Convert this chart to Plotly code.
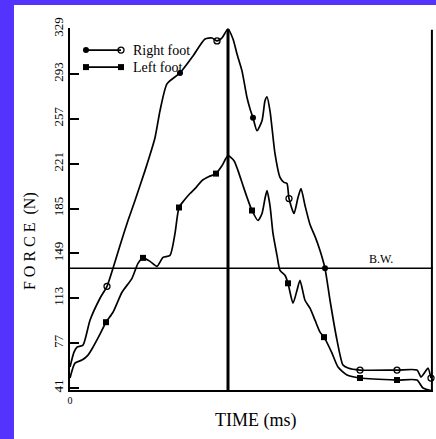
import plotly.graph_objects as go

# ---- data ----
right_t = [0, 4, 7, 13, 20, 30, 37, 43, 50, 58, 65, 75, 85, 90, 97, 110, 123, 135, 142, 147, 152, 158,
           163, 167, 172, 177, 180, 183, 187, 192, 195, 197, 200, 205, 210, 214, 217, 219, 224, 228, 231,
           235, 240, 245, 250, 255, 260, 267, 273, 278, 290, 327, 347, 351, 355, 358, 361]
right_f = [57.8, 69.8, 73.8, 75.4, 95.4, 113, 122.6, 137, 155.4, 175.4, 191.4, 215.4, 241.8, 263.4, 285,
           293.8, 307.4, 321, 321.8, 319.4, 321.8, 329, 321, 309, 295.4, 274, 265, 257.8, 247.4, 255.4,
           271.4, 274.6, 263.4, 229, 210, 206, 205, 193, 181, 193.8, 201, 187.4, 172.2, 162.6, 151.4, 137,
           111.4, 79.4, 59.4, 57, 55.4, 55.4, 55.4, 49.8, 53.8, 57, 49]
right_mark_t = [37, 110, 147, 183, 219, 255, 290, 327, 361]
right_mark_kind = ["open", "filled", "open", "filled", "open", "filled", "open", "open", "open"]

left_t = [0, 5, 12, 18, 23, 30, 36, 43, 52, 62, 68, 73, 80, 87, 93, 100, 105, 109, 114, 120, 126, 132,
          139, 146, 152, 158, 164, 168, 173, 177, 182, 188, 192, 195, 197, 200, 203, 207, 210, 215, 218,
          223, 227, 230, 235, 240, 245, 250, 254, 262, 268, 277, 290, 327, 347, 353, 363]
left_f = [49, 61, 63.4, 67.4, 73.8, 84.2, 93.8, 101.8, 117.8, 129, 141, 145.4, 142.6, 138.6, 145.8, 147.4,
          165, 185.8, 191.4, 197, 201.8, 207.4, 210.6, 213, 219.4, 227.4, 223.4, 215.4, 203.4, 194, 183.4,
          175.4, 181, 193, 199.4, 187.4, 165, 147.4, 135.4, 131.4, 125, 109, 119.4, 127.4, 111.4, 105, 95.4,
          85.8, 81.8, 69, 57.8, 51.4, 49, 47.4, 47.4, 41, 38.6]
left_mark_t = [36, 73, 109, 146, 182, 218, 254, 290, 327, 363]

bw_value = 137
y_ticks = [41, 77, 113, 149, 185, 221, 257, 293, 329]
series_names = ["Right foot", "Left foot"]

SERIF = "Liberation Serif"
LW = 1.7
fig = go.Figure()

for tt, ff in ((right_t, right_f), (left_t, left_f)):
    fig.add_trace(go.Scatter(x=tt, y=ff, mode="lines", line=dict(color="black", width=LW, shape="spline", smoothing=0.6),
                             showlegend=False, hoverinfo="skip", cliponaxis=False))

rmap = dict(zip(right_t, right_f))
lmap = dict(zip(left_t, left_f))
r_open = [t for t, k in zip(right_mark_t, right_mark_kind) if k == "open"]
r_fill = [t for t, k in zip(right_mark_t, right_mark_kind) if k == "filled"]
fig.add_trace(go.Scatter(x=r_open, y=[rmap[t] for t in r_open], mode="markers", cliponaxis=False, showlegend=False,
                         marker=dict(symbol="circle-open", size=6, color="black", line=dict(width=1.3))))
fig.add_trace(go.Scatter(x=r_fill, y=[rmap[t] for t in r_fill], mode="markers", cliponaxis=False, showlegend=False,
                         marker=dict(symbol="circle", size=6, color="black", line=dict(width=0))))
fig.add_trace(go.Scatter(x=left_mark_t[:-1], y=[lmap[t] for t in left_mark_t[:-1]], mode="markers", cliponaxis=False,
                         showlegend=False, marker=dict(symbol="square", size=6, color="black", line=dict(width=0))))
fig.add_trace(go.Scatter(x=left_mark_t[-1:], y=[lmap[t] for t in left_mark_t[-1:]], mode="markers", cliponaxis=False,
                         showlegend=False, marker=dict(symbol="circle", size=7, color="black", line=dict(width=0))))

# legend drawn on an overlay axis (0..1)
lx = [0.044, 0.1405]
ly = [0.939, 0.892]
fig.add_trace(go.Scatter(x=lx, y=[ly[0]] * 2, xaxis="x2", yaxis="y2", mode="lines", showlegend=False,
                         line=dict(color="black", width=LW)))
fig.add_trace(go.Scatter(x=lx[:1], y=[ly[0]], xaxis="x2", yaxis="y2", mode="markers", showlegend=False,
                         marker=dict(symbol="circle", size=6, color="black", line=dict(width=0))))
fig.add_trace(go.Scatter(x=lx[1:], y=[ly[0]], xaxis="x2", yaxis="y2", mode="markers", showlegend=False,
                         marker=dict(symbol="circle-open", size=6, color="black", line=dict(width=1.3))))
fig.add_trace(go.Scatter(x=lx, y=[ly[1]] * 2, xaxis="x2", yaxis="y2", mode="lines+markers", showlegend=False,
                         line=dict(color="black", width=LW), marker=dict(symbol="square", size=6, color="black", line=dict(width=0))))

# reference lines
peak_i = max(range(len(right_f)), key=lambda i: right_f[i])
peak_t, peak_f = right_t[peak_i], right_f[peak_i]
shapes = [
    dict(type="line", xref="x", yref="y", x0=peak_t, x1=peak_t, y0=39.4, y1=peak_f, line=dict(color="black", width=3)),
    dict(type="line", xref="paper", yref="y", x0=0, x1=1, y0=bw_value, y1=bw_value, line=dict(color="black", width=1.5)),
    dict(type="line", xref="paper", yref="paper", x0=0.997, x1=0.997, y0=0, y1=0.995, line=dict(color="black", width=2)),
    # blue frame bands
    dict(type="rect", xref="paper", yref="paper", x0=-0.4, x1=1.1, y0=1.0635, y1=1.2, fillcolor="#5533ff", line=dict(width=0), layer="below"),
    dict(type="rect", xref="paper", yref="paper", x0=-0.4, x1=-0.1543, y0=-0.3, y1=1.2, fillcolor="#5533ff", line=dict(width=0), layer="below"),
]

def ann(text, x, y, size, angle=0, xanchor="center"):
    return dict(text=text, xref="paper", yref="paper", x=x, y=y, textangle=angle, showarrow=False,
                xanchor=xanchor, yanchor="middle", font=dict(family=SERIF, size=size, color="black"))

annotations = [
    ann("F O R C E  (N)", -0.110, 0.4116, 16, angle=-90),
    ann("TIME (ms)", 0.512, -0.083, 18),
    ann("B.W.", 0.857, 0.362, 12),
    ann(series_names[0], 0.168, ly[0], 14, xanchor="left"),
    ann(series_names[1], 0.168, ly[1], 14, xanchor="left"),
]

fig.update_layout(
    width=436, height=439, margin=dict(l=70, r=3, t=28, b=49),
    paper_bgcolor="white", plot_bgcolor="white",
    shapes=shapes, annotations=annotations,
    xaxis=dict(range=[0, 363], showgrid=False, zeroline=False, showline=True, linecolor="black", linewidth=1.5,
               tickvals=[0], ticktext=["0"], ticks="", tickfont=dict(family=SERIF, size=10, color="black")),
    yaxis=dict(range=[39.4, 329.8], showgrid=False, zeroline=False, showline=True, linecolor="black", linewidth=1.5,
               tickvals=y_ticks, ticktext=[str(v) for v in y_ticks], ticks="inside", ticklen=9, tickwidth=1.5,
               tickcolor="black", tickangle=-90, tickfont=dict(family=SERIF, size=13, color="black")),
    xaxis2=dict(range=[0, 1], overlaying="x", visible=False),
    yaxis2=dict(range=[0, 1], overlaying="y", visible=False),
)

fig.write_html("out.html")
